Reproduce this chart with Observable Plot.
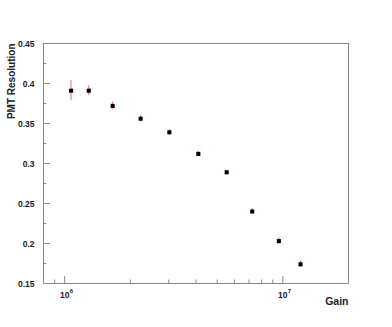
<!DOCTYPE html>
<html>
<head>
<meta charset="utf-8">
<script src="https://cdn.jsdelivr.net/npm/d3@7"></script>
<script src="https://cdn.jsdelivr.net/npm/@observablehq/plot@0.6"></script>
<style>
  html, body { margin: 0; padding: 0; background: #fff; }
  #chart svg { display: block; }
</style>
</head>
<body>
<div id="chart"></div>
<script>
// Data
const gain       = [1.07e6, 1.29e6, 1.66e6, 2.23e6, 3.02e6, 4.10e6, 5.53e6, 7.24e6, 9.59e6, 1.205e7];
const resolution = [0.391, 0.391, 0.372, 0.356, 0.339, 0.312, 0.289, 0.240, 0.203, 0.174];
const resError   = [0.0125, 0.006, 0.0048, 0.004, 0.0033, 0.003, 0.003, 0.0035, 0.004, 0.004];

// Axis ticks
const yMajorTicks = [0.15, 0.2, 0.25, 0.3, 0.35, 0.4, 0.45];
const yMajorLabels = ["0.15", "0.2", "0.25", "0.3", "0.35", "0.4", "0.45"];
const yMinorTicks = [0.175, 0.225, 0.275, 0.325, 0.375, 0.425];
const xMajorTicks = [1e6, 1e7];
const xMajorBase = ["10", "10"];
const xMajorExp = ["6", "7"];
const xMinorTicks = [9e5, 2e6, 3e6, 4e6, 5e6, 6e6, 7e6, 8e6, 9e6, 2e7];
const xTitle = "Gain";
const yTitle = "PMT Resolution";

const points = gain.map((g, i) => ({gain: g, res: resolution[i], err: resError[i]}));
const yLab = yMajorTicks.map((v, i) => ({v, label: yMajorLabels[i]}));
const xLab = xMajorTicks.map((v, i) => ({v, base: xMajorBase[i], exp: xMajorExp[i]}));

const axisColor = "#8a8a8a";
const font = "'Liberation Sans', Arial, Helvetica, sans-serif";

const chart = Plot.plot({
  width: 392,
  height: 327,
  marginLeft: 43,
  marginRight: 44,
  marginTop: 43,
  marginBottom: 44,
  style: {fontFamily: font, background: "#fff", color: "#000"},
  x: {type: "log", domain: [8e5, 2e7], axis: null},
  y: {domain: [0.15, 0.45], axis: null},
  marks: [
    Plot.frame({stroke: axisColor}),
    // y ticks (inward)
    Plot.axisY(yMajorTicks, {anchor: "left", tickSize: -7, text: null, stroke: axisColor}),
    Plot.axisY(yMinorTicks, {anchor: "left", tickSize: -3.5, text: null, stroke: axisColor}),
    Plot.text(yLab, {x: 8e5, y: "v", text: "label", textAnchor: "end", dx: -9, dy: 1, fontSize: 8.5, fontWeight: "bold", fill: "#222"}),
    // x ticks (inward)
    Plot.axisX(xMajorTicks, {anchor: "bottom", tickSize: -7, text: null, stroke: axisColor}),
    Plot.axisX(xMinorTicks, {anchor: "bottom", tickSize: -3.5, text: null, stroke: axisColor}),
    Plot.text(xLab, {x: "v", y: 0.15, text: "base", textAnchor: "middle", dy: 12, fontSize: 8.5, fontWeight: "bold", fill: "#222"}),
    Plot.text(xLab, {x: "v", y: 0.15, text: "exp", textAnchor: "start", dx: 5, dy: 7.5, fontSize: 6, fontWeight: "bold", fill: "#222"}),
    // titles
    Plot.text([xTitle], {frameAnchor: "bottom-right", textAnchor: "end", dy: 21, fontSize: 10.5, fontWeight: "bold", fill: "#222"}),
    Plot.text([yTitle], {frameAnchor: "top-left", textAnchor: "end", rotate: -90, dx: -36, fontSize: 10, fontWeight: "bold", fill: "#222"}),
    // error bars
    Plot.ruleX(points, {x: "gain", y1: d => d.res - d.err, y2: d => d.res + d.err, stroke: "#ff6666", strokeWidth: 1}),
    // markers
    Plot.dot(points, {x: "gain", y: "res", symbol: "square", r: 2.3, fill: "#000", stroke: "none"})
  ]
});
document.getElementById("chart").appendChild(chart);
</script>
</body>
</html>
